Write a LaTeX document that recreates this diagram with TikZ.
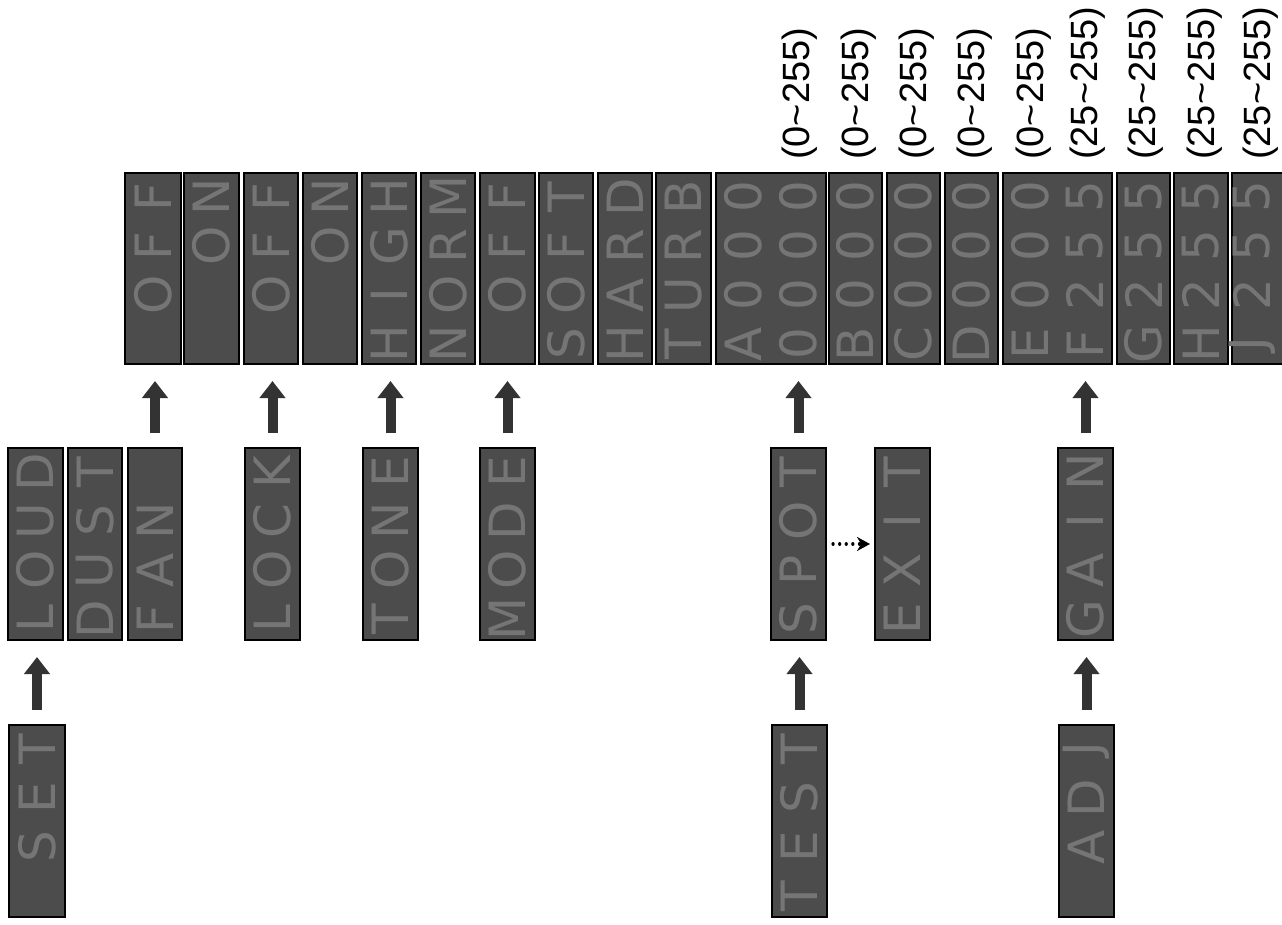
\documentclass[tikz,border=0pt]{standalone}
\usepackage{fontspec}
\setmainfont{Liberation Sans}
\newfontfamily\lcdfont{DejaVu Sans}
\usetikzlibrary{arrows.meta,calc}
\definecolor{panelfill}{HTML}{4C4C4C}
\definecolor{lcdtext}{HTML}{757575}
\definecolor{arrowfill}{HTML}{333333}
\tikzset{
  panel/.style={draw=black, line width=2.5pt, fill=panelfill, inner sep=0pt, outer sep=0pt, anchor=north west},
  lcdch/.style={rotate=90, text=lcdtext, font=\lcdfont\fontsize{50}{50}\selectfont, inner sep=0pt},
  rng/.style={rotate=90, anchor=west, inner sep=0pt, font=\fontsize{38}{38}\selectfont},
  barrow/.style={draw=arrowfill, line width=10pt, -{Triangle[length=17pt,width=25pt]}, shorten <=15pt, shorten >=17pt},
  darrow/.style={draw=black, line width=3.2pt, line cap=round, dash pattern=on 0.1pt off 6.5pt, -{Stealth[length=13pt,width=14pt]}, shorten <=7pt, shorten >=5pt}
}
% #1 name prefix, #2 x centre, #3 panel top, #4 characters, top slot first
\newcommand\lcdtxt[4]{%
  \foreach \c [count=\i from 0] in {#4} {\node[lcdch, name=#1-\i] at (#2,{#3+24+49*\i}) {\c};}}
\begin{document}
\begin{tikzpicture}[x=1pt, y=-1pt]
\useasboundingbox (0,0) rectangle (1282,925);
% ---------- top row
\node[panel, minimum width=56pt, minimum height=191pt] (t1) at (125,173) {};
\node[panel, minimum width=55pt, minimum height=191pt] (t2) at (184,173) {};
\node[panel, minimum width=54pt, minimum height=191pt] (t3) at (244,173) {};
\node[panel, minimum width=54pt, minimum height=191pt] (t4) at (303,173) {};
\node[panel, minimum width=54pt, minimum height=191pt] (t5) at (362,173) {};
\node[panel, minimum width=54pt, minimum height=191pt] (t6) at (421,173) {};
\node[panel, minimum width=55pt, minimum height=191pt] (t7) at (480,173) {};
\node[panel, minimum width=54pt, minimum height=191pt] (t8) at (539,173) {};
\node[panel, minimum width=54pt, minimum height=191pt] (t9) at (598,173) {};
\node[panel, minimum width=55pt, minimum height=191pt] (t10) at (656,173) {};
\node[panel, minimum width=110pt, minimum height=191pt] (t11) at (716,173) {};
\node[panel, minimum width=53pt, minimum height=191pt] (t12) at (829,173) {};
\node[panel, minimum width=53pt, minimum height=191pt] (t13) at (887,173) {};
\node[panel, minimum width=53pt, minimum height=191pt] (t14) at (945,173) {};
\node[panel, minimum width=109pt, minimum height=191pt] (t15) at (1003,173) {};
\node[panel, minimum width=53pt, minimum height=191pt] (t16) at (1117,173) {};
\node[panel, minimum width=54pt, minimum height=191pt] (t17) at (1174,173) {};
\node[panel, minimum width=58pt, minimum height=191pt] (t18) at (1232,173) {};
% ---------- middle row
\node[panel, minimum width=55pt, minimum height=192pt] (m1) at (8,448) {};
\node[panel, minimum width=54pt, minimum height=192pt] (m2) at (68,448) {};
\node[panel, minimum width=54pt, minimum height=192pt] (m3) at (128,448) {};
\node[panel, minimum width=55pt, minimum height=192pt] (m4) at (245,448) {};
\node[panel, minimum width=55pt, minimum height=192pt] (m5) at (363,448) {};
\node[panel, minimum width=55pt, minimum height=192pt] (m6) at (480,448) {};
\node[panel, minimum width=55pt, minimum height=192pt] (m7) at (771,448) {};
\node[panel, minimum width=55pt, minimum height=192pt] (m8) at (875,448) {};
\node[panel, minimum width=55pt, minimum height=192pt] (m9) at (1058,448) {};
% ---------- bottom row
\node[panel, minimum width=56pt, minimum height=192pt] (b1) at (9,725) {};
\node[panel, minimum width=55pt, minimum height=192pt] (b2) at (772,725) {};
\node[panel, minimum width=55pt, minimum height=192pt] (b3) at (1059,725) {};
% ---------- LCD characters
\lcdtxt{lt1}{153}{173}{F,F,O}
\lcdtxt{lt2}{211.5}{173}{N,O}
\lcdtxt{lt3}{271}{173}{F,F,O}
\lcdtxt{lt4}{330}{173}{N,O}
\lcdtxt{lt5}{389}{173}{H,G,I,H}
\lcdtxt{lt6}{448}{173}{M,R,O,N}
\lcdtxt{lt7}{507.5}{173}{F,F,O}
\lcdtxt{lt8}{566}{173}{T,F,O,S}
\lcdtxt{lt9}{625}{173}{D,R,A,H}
\lcdtxt{lt10}{683.5}{173}{B,R,U,T}
\lcdtxt{lt11a}{743}{173}{0,0,0,A}
\lcdtxt{lt11b}{798}{173}{0,0,0,0}
\lcdtxt{lt12}{855.5}{173}{0,0,0,B}
\lcdtxt{lt13}{913.5}{173}{0,0,0,C}
\lcdtxt{lt14}{971.5}{173}{0,0,0,D}
\lcdtxt{lt15a}{1030}{173}{0,0,0,E}
\lcdtxt{lt15b}{1085}{173}{5,5,2,F}
\lcdtxt{lt16}{1143.5}{173}{5,5,2,G}
\lcdtxt{lt17}{1201}{173}{5,5,2,H}
\lcdtxt{lt18}{1252}{173}{5,5,2,J}
\lcdtxt{lm1}{35.5}{448}{D,U,O,L}
\lcdtxt{lm2}{95}{448}{T,S,U,D}
\lcdtxt{lm3}{155}{448}{{},N,A,F}
\lcdtxt{lm4}{272.5}{448}{K,C,O,L}
\lcdtxt{lm5}{390.5}{448}{E,N,O,T}
\lcdtxt{lm6}{507.5}{448}{E,D,O,M}
\lcdtxt{lm7}{798.5}{448}{T,O,P,S}
\lcdtxt{lm8}{902.5}{448}{T,I,X,E}
\lcdtxt{lm9}{1085.5}{448}{N,I,A,G}
\lcdtxt{lb1}{37}{725}{T,E,S}
\lcdtxt{lb2}{799.5}{725}{T,S,E,T}
\lcdtxt{lb3}{1086.5}{725}{J,D,A}
% ---------- range labels
\node[rng] (r1) at (800,160) {(0\textasciitilde255)};
\node[rng] (r2) at (859,160) {(0\textasciitilde255)};
\node[rng] (r3) at (917,160) {(0\textasciitilde255)};
\node[rng] (r4) at (975,160) {(0\textasciitilde255)};
\node[rng] (r5) at (1034,160) {(0\textasciitilde255)};
\node[rng] (r6) at (1088,160) {(25\textasciitilde255)};
\node[rng] (r7) at (1146,160) {(25\textasciitilde255)};
\node[rng] (r8) at (1205,160) {(25\textasciitilde255)};
\node[rng] (r9) at (1261,160) {(25\textasciitilde255)};
% ---------- block arrows
\draw[barrow] (b1.north) -- (b1.north |- m1.south);
\draw[barrow] (m3.north) -- (m3.north |- t1.south);
\draw[barrow] (m4.north) -- (m4.north |- t3.south);
\draw[barrow] (m5.north) -- (m5.north |- t5.south);
\draw[barrow] (m6.north) -- (m6.north |- t7.south);
\draw[barrow] (m7.north) -- (m7.north |- t11.south);
\draw[barrow] (m9.north) -- (m9.north |- t15.south);
\draw[barrow] (b2.north) -- (b2.north |- m7.south);
\draw[barrow] (b3.north) -- (b3.north |- m9.south);
% ---------- dotted arrow
\draw[darrow] (m7.east) -- (m8.west);
\end{tikzpicture}
\end{document}
